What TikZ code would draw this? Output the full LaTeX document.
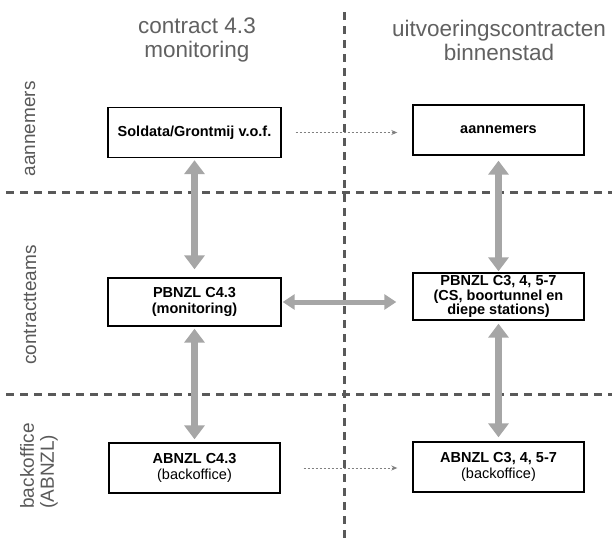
\documentclass[tikz,border=0pt]{standalone}
\usepackage{fontspec}
\setmainfont{Liberation Sans}
\usetikzlibrary{arrows.meta}
\begin{document}
\begin{tikzpicture}[x=1pt,y=-1pt,
  box/.style={draw=black, line width=1.4pt, minimum width=173pt, minimum height=50pt, inner sep=0pt,
    font=\fontsize{14.5}{16}\selectfont\bfseries, align=center},
  sep/.style={draw=black!65, line width=3pt, dash pattern=on 8pt off 6pt},
  head/.style={font=\fontsize{22.5}{24}\selectfont, text=black!62, align=center},
  lab/.style={font=\fontsize{19}{20}\selectfont, text=black!65, rotate=90, align=left},
  bigarrow/.style={draw=black!35, line width=7pt, {Triangle[width=20pt,length=14pt]}-{Triangle[width=20pt,length=14pt]}},
  midarrow/.style={draw=black!35, line width=5pt, {Triangle[width=15pt,length=12pt]}-{Triangle[width=15pt,length=12pt]}},
  thinarrow/.style={draw=black!50, line width=0.9pt, dash pattern=on 2pt off 2pt, -{Stealth[length=6pt,width=5pt]}}
]
\useasboundingbox (0,0) rectangle (612,538);
\fill[white] (0,0) rectangle (612,538);

% separators
\coordinate (h1l) at (6,192);
\coordinate (h1r) at (612,192);
\coordinate (h2l) at (6,394);
\coordinate (h2r) at (612,394);
\coordinate (vt) at (344,12);
\coordinate (vb) at (344,538);
\draw[sep] (h1l) -- (h1r);
\draw[sep] (h2l) -- (h2r);
\draw[sep] (vt) -- (vb);

% headers
\node[head] (hl) at (197,40) {contract 4.3\\monitoring};
\node[head] (hr) at (499,40) {uitvoeringscontracten\\binnenstad};

% row labels
\node[lab] (l1) at (30,129) {aannemers};
\node[lab] (l2) at (30,305) {contractteams};
\node[lab] (l3) at (39,466) {backoffice\\(ABNZL)};

% boxes
\node[box] (sg) at (194.5,132.5) {Soldata/Grontmij v.o.f.};
\node[box, minimum width=171pt] (aan) at (498.5,130) {aannemers};
\node[box, minimum height=48pt] (p43) at (194.5,302) {PBNZL C4.3\\(monitoring)};
\node[box, minimum width=171pt, minimum height=47pt, font=\fontsize{14.5}{14.5}\selectfont\bfseries] (p3) at (498.5,296.5) {PBNZL C3, 4, 5-7\\(CS, boortunnel en\\diepe stations)};
\node[box, minimum width=171pt] (a43) at (194.5,468) {ABNZL C4.3\\{\mdseries(backoffice)}};
\node[box, minimum width=171pt] (a3) at (498.5,467) {ABNZL C3, 4, 5-7\\{\mdseries(backoffice)}};

% connectors
\draw[bigarrow, shorten <=2pt, shorten >=8pt] (sg) -- (p43);
\draw[bigarrow, shorten <=2pt, shorten >=3pt] (p43) -- (a43);
\draw[bigarrow, shorten <=5pt, shorten >=1pt] (aan) -- (p3);
\draw[bigarrow, shorten <=3pt, shorten >=4pt] (p3) -- (a3);
\draw[midarrow, shorten <=1pt, shorten >=16pt] (p43.east) -- (p43.east -| p3.west);
\draw[thinarrow, shorten <=14pt, shorten >=15pt] (sg.east) -- (sg.east -| aan.west);
\draw[thinarrow, shorten <=23pt, shorten >=15pt] (a43.east) -- (a43.east -| a3.west);
\end{tikzpicture}
\end{document}
